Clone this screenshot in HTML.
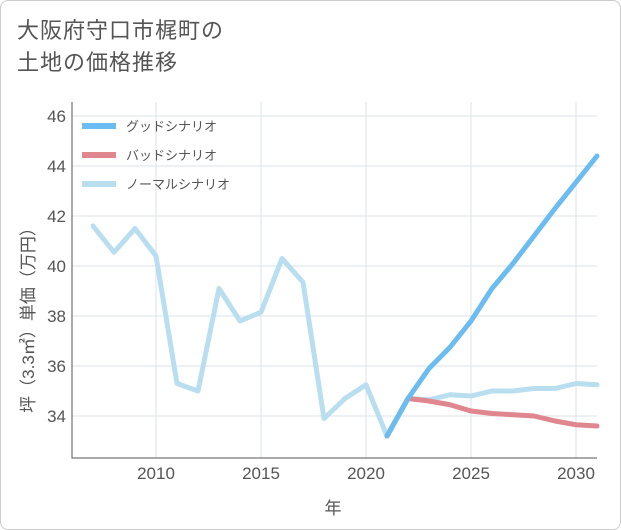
<!DOCTYPE html>
<html><head><meta charset="utf-8"><style>
body{margin:0;background:#fff;font-family:"Liberation Sans","Noto Sans CJK JP",sans-serif;}
#wrap{position:relative;width:619px;height:528px;border:1px solid #ccc;border-radius:8px;overflow:hidden;background:#fff}
#title{position:absolute;left:16px;top:14px;font-size:22px;line-height:32px;color:#555;letter-spacing:1px}
</style></head><body>
<div id="wrap">
<div id="title">大阪府守口市梶町の<br>土地の価格推移</div>
<svg id="chart" width="621" height="530" style="position:absolute;left:-1px;top:-1px"></svg>
</div>
<script>
const years=[2007,2008,2009,2010,2011,2012,2013,2014,2015,2016,2017,2018,2019,2020,2021,2022,2023,2024,2025,2026,2027,2028,2029,2030,2031];
const normalVals=[41.6,40.55,41.5,40.4,35.3,35.0,39.1,37.8,38.15,40.3,39.35,33.9,34.7,35.25,33.2,34.7,34.65,34.85,34.8,35.0,35.0,35.1,35.1,35.3,35.25];
const goodYears=[2021,2022,2023,2024,2025,2026,2027,2028,2029,2030,2031];
const goodVals=[33.2,34.7,35.9,36.75,37.8,39.1,40.1,41.2,42.3,43.35,44.4];
const badVals=[33.2,34.7,34.6,34.45,34.2,34.1,34.05,34.0,33.8,33.65,33.6];
const yTicks=[34,36,38,40,42,44,46];
const xTicks=[2010,2015,2020,2025,2030];
const legendLabels=["グッドシナリオ","バッドシナリオ","ノーマルシナリオ"];
const colors=["#6bbcf0","#e0868e","#b9def0"];
const L=72,R=597,T=102,B=458;
const x=v=>156+(v-2010)*21;
const y=v=>416-(v-34)*25;
const svg=document.getElementById('chart');
const NS='http://www.w3.org/2000/svg';
function mk(t,a,p){const e=document.createElementNS(NS,t);for(const k in a)e.setAttribute(k,a[k]);(p||svg).appendChild(e);return e;}
const bg=mk('rect',{x:L,y:T,width:R-L,height:B-T,fill:'#fff'});


yTicks.forEach(v=>{
 const g=mk('line',{x1:L,x2:R,y1:y(v),y2:y(v),stroke:'#dde3ea','stroke-width':1});
 
 
 const t=mk('text',{x:L-6,y:y(v)+6,'text-anchor':'end','font-size':17,fill:'#555'});
 t.textContent=v;
 
 
});
xTicks.forEach(v=>{
 const g=mk('line',{x1:x(v),x2:x(v),y1:T,y2:B,stroke:'#dde3ea','stroke-width':1});
 
 
 const t=mk('text',{x:x(v),y:B+21,'text-anchor':'middle','font-size':17,fill:'#555'});
 t.textContent=v;
 
 
});
const ax=mk('path',{d:`M${L} ${T}V${B}H${R}`,fill:'none',stroke:'#555','stroke-width':1});


function line(xs,vs,c,name){
 const d=xs.map((xx,i)=>(i?'L':'M')+x(xx)+' '+y(vs[i])).join('');
 const p=mk('path',{d:d,fill:'none',stroke:c,'stroke-width':5,'stroke-linejoin':'round','stroke-linecap':'round'});
 
 
}
line(years,normalVals,colors[2],'normal-scenario-line');
line(goodYears,badVals,colors[1],'bad-scenario-line');
line(goodYears,goodVals,colors[0],'good-scenario-line');
legendLabels.forEach((s,i)=>{
 const ly=126+i*29;
 const l=mk('line',{x1:82,x2:116,y1:ly,y2:ly,stroke:colors[i],'stroke-width':6});
 
 
 const t=mk('text',{x:126,y:ly+5,'font-size':13,fill:'#555'});
 t.textContent=s;
 
 
});
const yt=mk('text',{x:0,y:0,'font-size':17,fill:'#555','text-anchor':'middle',transform:'translate(34,316) rotate(-90)'});
yt.textContent='坪（3.3㎡）単価（万円）';


const xt=mk('text',{x:333,y:514,'font-size':17,fill:'#555','text-anchor':'middle'});
xt.textContent='年';


</script>
</body></html>
